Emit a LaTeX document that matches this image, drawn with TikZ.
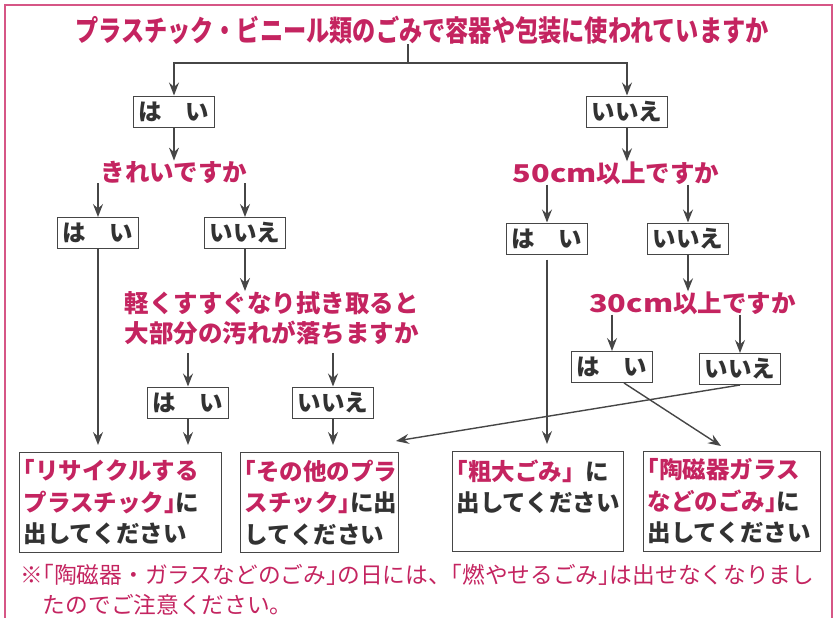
\documentclass[tikz,border=0pt]{standalone}
\usepackage{fontspec}
\setmainfont{Noto Sans CJK JP}
\usetikzlibrary{arrows.meta}
\definecolor{askpink}{RGB}{196,36,96}
\definecolor{ink}{RGB}{50,50,50}
\definecolor{wire}{RGB}{70,70,70}
\definecolor{rim}{RGB}{214,86,134}
\newcommand\jlb{\makebox[.5em][r]{「}}
\newcommand\jrb{\makebox[.5em][l]{」}}

\begin{document}
\begin{tikzpicture}[x=1pt,y=-1pt,
    ask/.style={text=askpink,font=\bfseries\fontsize{24.5}{30}\selectfont,inner sep=0pt,align=center},
    ans/.style={draw=wire,line width=1pt,text=ink,font=\bfseries\fontsize{23.5}{28}\selectfont,
      inner xsep=5pt,inner ysep=4pt,minimum height=31pt},
    dest/.style={draw=wire,line width=1pt,text=ink,font=\bfseries\fontsize{23.5}{31.5}\selectfont,
      align=left,inner xsep=4pt,inner ysep=6pt,minimum height=100pt,anchor=north west},
    arr/.style={draw=wire,line width=1.4pt,-{Stealth[length=13pt,width=10pt,inset=4.5pt]}}]
  \useasboundingbox (0,0) rectangle (838,618);
  % frame
  \draw[rim,line width=1.2pt] (5,618) -- (5,5) -- (832,5) -- (832,618);

  % questions and answers
  \draw
    (422,30) node[ask,font=\bfseries\fontsize{29}{30}\selectfont] (top)
      {\scalebox{0.8}[1]{プラスチック・ビニール類のごみで容器や包装に使われていますか}}
    (174,111.5) node[ans] (y1){は　い}
    (627,111.5) node[ans] (n1){いいえ}
    (174,172) node[ask] (q1){きれいですか}
    (98,233) node[ans] (y2){は　い}
    (245,233) node[ans] (n2){いいえ}
    (271.5,318) node[ask] (q2){軽くすすぐなり拭き取ると\\大部分の汚れが落ちますか}
    (188,402.5) node[ans] (y3){は　い}
    (333,402.5) node[ans] (n3){いいえ}
    (616,173) node[ask] (q3){\scalebox{1.25}[1]{50cm}以上ですか}
    (547,238.5) node[ans] (y4){は　い}
    (688,238.5) node[ans] (n4){いいえ}
    (692.5,303) node[ask] (q4){\scalebox{1.25}[1]{30cm}以上ですか}
    (612,367) node[ans] (y5){は　い}
    (740,369) node[ans] (n5){いいえ};

  % where to put it
  \draw
    (19,452) node[dest,text width=194pt] (recycle)
      {{\color{askpink}\jlb リサイクルする}\\{\color{askpink}プラスチック\jrb}に\\出してください}
    (240,452) node[dest,text width=150pt] (other)
      {{\color{askpink}\jlb その他のプラ}\\{\color{askpink}スチック\jrb}に出\\してください}
    (452,451) node[dest,text width=163pt] (bulky)
      {{\color{askpink}\jlb 粗大ごみ」}に\\出してください\\\mbox{}}
    (643,451) node[dest,text width=169pt] (glass)
      {{\color{askpink}\jlb 陶磁器ガラス}\\{\color{askpink}などのごみ\jrb}に\\出してください};

  \draw (20,590) node[anchor=west,text=askpink,font=\fontsize{22.7}{30}\selectfont,align=left,inner sep=0pt] (note)
    {※\jlb 陶磁器・ガラスなどのごみ\jrb の日には、\jlb 燃やせるごみ\jrb は出せなくなりまし\\
     \hspace*{1em}たのでご注意ください。};

  \coordinate (split) at (408,63);
  \begin{scope}[arr]
    \draw[-] (split |- top.south) -- (split);
    \draw (split) -| (y1);
    \draw (split) -| (n1);
    \draw (y1) -- (y1 |- q1.north);
    \draw (q1.south -| y2) -- (y2);
    \draw (q1.south -| n2) -- (n2);
    \draw (n2) -- (n2 |- q2.north);
    \draw[shorten <=8pt] (q2.south -| y3) -- (y3);
    \draw[shorten <=8pt] (q2.south -| n3) -- (n3);
    \draw[shorten >=7pt] (y2) -- (y2 |- recycle.north);
    \draw[shorten >=7pt] (y3) -- (y3 |- recycle.north);
    \draw[shorten >=7pt] (n3) -- (n3 |- other.north);
    \draw (n1) -- (n1 |- q3.north);
    \draw (q3.south -| y4) -- (y4);
    \draw (q3.south -| n4) -- (n4);
    \draw (n4) -- (n4 |- q4.north);
    \draw (q4.south -| y5) -- (y5);
    \draw (q4.south -| n5) -- (n5);
    \draw[shorten <=5pt,shorten >=7pt] (y4) -- (y4 |- bulky.north);
    \draw (n5.south) -- ([xshift=-3pt,yshift=11pt]other.north east);
    \draw ([xshift=12pt]y5.south) -- ([xshift=-11pt,yshift=5pt]glass.north);
  \end{scope}
\end{tikzpicture}
\end{document}
